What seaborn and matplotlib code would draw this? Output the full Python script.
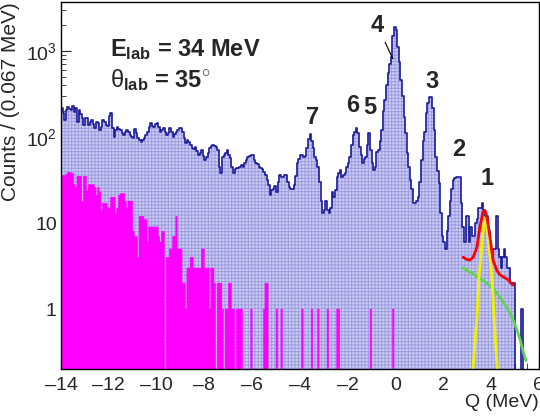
import numpy as np
import matplotlib
matplotlib.use("Agg")
import matplotlib.pyplot as plt
import seaborn as sns
from matplotlib.ticker import FixedLocator, FixedFormatter, MultipleLocator, LogLocator, NullFormatter

# histogram binning: 300 bins of 0.067 MeV between -14 and 6 MeV
q_min, q_max, n_bins = -14.0, 6.0, 300

# all events, counts per bin (one row = 1 MeV = 15 bins)
blue_counts = [
    215, 190, 157, 205, 225, 210, 205, 230, 195, 215, 150, 205, 185, 167, 138,   # -14
    167, 167, 138, 150, 157, 140, 127, 150, 145, 120, 130, 157, 150, 138, 135,   # -13
    175, 190, 127, 100, 120, 130, 125, 120, 110, 105, 115, 120, 115, 105, 100,   # -12
    97, 125, 110, 97, 92, 87, 92, 97, 105, 115, 130, 145, 135, 130, 140,         # -11
    145, 130, 115, 120, 127, 115, 105, 112, 127, 115, 100, 108, 115, 120, 127,   # -10
    127, 115, 97, 85, 92, 88, 80, 74, 72, 76, 68, 62, 66, 70, 60,                # -9
    54, 58, 66, 74, 78, 81, 78, 76, 70, 45, 38, 58, 62, 66, 70,                  # -8
    62, 57, 45, 38, 42, 44, 44, 45, 47, 45, 50, 54, 58, 60, 62,                  # -7
    62, 54, 50, 48, 45, 44, 42, 39, 36, 32, 28, 21, 24, 25, 27,                  # -6
    23, 30, 36, 34, 34, 36, 36, 30, 26, 25, 25, 28, 35, 50, 55,                  # -5
    62, 62, 58, 60, 75, 95, 108, 90, 74, 58, 54, 45, 30, 18, 13,                 # -4
    14, 18, 14, 13, 15, 23, 20, 24, 34, 38, 41, 34, 36, 38, 45,                  # -3
    50, 58, 80, 106, 115, 127, 110, 76, 62, 50, 55, 58, 80, 111, 70,             # -2
    50, 41, 45, 67, 70, 90, 120, 200, 268, 400, 550, 700, 850, 1500, 1900,       # -1
    1750, 1100, 750, 460, 300, 170, 110, 65, 45, 32, 25, 17, 17, 18, 20,         # 0
    30, 54, 90, 115, 190, 250, 290, 290, 220, 120, 58, 40, 29, 13, 7,            # 1
    6, 5, 8, 12, 18, 25, 32, 33, 34, 34, 34, 17, 9, 6, 12,                       # 2
    12, 6, 9, 7, 7, 10, 11, 15, 15, 17, 14, 12, 12, 8, 4,                        # 3
    4, 5, 5, 12, 5, 4, 3, 4, 5, 4, 3, 3, 2, 2, 2,                                # 4
    0, 0, 0, 0, 1, 0, 0, 0, 0, 0, 0, 0, 0, 0, 0,                                 # 5
]

# gated events (magenta)
magenta_counts = [
    34, 36, 35, 37, 39, 39, 38, 38, 28, 26, 35, 35, 35, 18, 35,   # -14
    35, 24, 28, 28, 28, 28, 26, 21, 26, 23, 14, 17, 17, 17, 15,   # -13
    15, 20, 20, 20, 13, 15, 21, 22, 22, 22, 18, 15, 18, 18, 18,   # -12
    8, 7, 7, 4, 12, 12, 12, 11, 11, 6, 9, 9, 9, 9, 9,             # -11
    9, 7, 6, 8, 8, 0, 4, 4, 5, 5, 7, 7, 12, 5, 5,                 # -10
    5, 2, 2, 1, 3, 3, 4, 4, 3, 3, 3, 3, 3, 5, 5,                  # -9
    3, 3, 3, 1, 3, 3, 2, 0, 2, 2, 2, 1, 0, 1, 1,                  # -8
    2, 2, 1, 1, 0, 1, 1, 1, 1, 0, 0, 0, 0, 0, 1,                  # -7
    0, 0, 0, 0, 0, 0, 0, 1, 2, 2, 0, 0, 0, 0, 0,                  # -6
    1, 0, 0, 1, 0, 0, 0, 0, 0, 0, 0, 0, 0, 0, 0,                  # -5
    0, 1, 0, 0, 0, 0, 0, 1, 0, 0, 0, 1, 0, 0, 0,                  # -4
    0, 0, 1, 0, 0, 0, 0, 0, 1, 1, 0, 0, 0, 0, 0,                  # -3
    0, 0, 0, 0, 0, 0, 0, 0, 0, 0, 0, 0, 0, 0, 1,                  # -2
    0, 0, 0, 0, 0, 0, 0, 0, 0, 0, 0, 0, 0, 1, 0,                  # -1
] + [0] * 90

# fit of peak 1: total (red), background (green), gaussian (yellow)
red_q = [2.83, 2.95, 3.11, 3.25, 3.41, 3.53, 3.66, 3.74, 3.82, 3.95, 4.08, 4.24, 4.37, 4.58, 4.70, 4.91]
red_val = [4.0, 3.8, 3.7, 4.0, 5.3, 9.0, 13.4, 14.0, 12.0, 6.9, 3.7, 2.8, 2.5, 2.3, 2.2, 1.9]
green_q = [2.83, 3.20, 3.60, 3.82, 4.10, 4.37, 4.60, 4.79, 4.95, 5.08, 5.20, 5.33, 5.46]
green_val = [3.0, 2.6, 2.2, 2.0, 1.7, 1.38, 1.1, 0.9, 0.72, 0.57, 0.45, 0.33, 0.25]
yellow_q = [3.23, 3.32, 3.41, 3.49, 3.56, 3.62, 3.68, 3.74, 3.80, 3.87, 3.95, 4.03, 4.12, 4.20, 4.27]
yellow_val = [0.18, 0.4, 0.8, 2.4, 3.8, 6.3, 9.0, 11.4, 10.5, 6.9, 4.0, 2.4, 0.8, 0.35, 0.18]

# peak labels
peak_names = ["7", "6", "5", "3", "2", "1"]
peak_q = [-3.46, -1.78, -1.07, 1.52, 2.65, 3.82]
peak_y = [170, 235, 218, 436, 72, 33]

edges = list(np.linspace(q_min, q_max, n_bins + 1))
centers = [0.5 * (a + b) for a, b in zip(edges[:-1], edges[1:])]

sns.set_style("ticks")
plt.rcParams['font.family'] = ['Liberation Sans', 'DejaVu Sans']
plt.rcParams['mathtext.fontset'] = 'custom'
plt.rcParams['mathtext.rm'] = 'Liberation Sans'
plt.rcParams['mathtext.it'] = 'Liberation Sans:italic'
plt.rcParams['mathtext.bf'] = 'Liberation Sans:bold'
plt.rcParams['hatch.linewidth'] = 0.7

fig = plt.figure(figsize=(5.4, 4.19), dpi=100)
ax = fig.add_axes([0.113, 0.119, 0.885, 0.876])

# hatched fill of the full spectrum
sns.histplot(x=centers, weights=blue_counts, bins=edges, element="step", fill=True,
             facecolor="#cdcdf3", edgecolor="#9c9ce2", hatch="+++++", linewidth=0,
             ax=ax)
# gated spectrum
sns.histplot(x=centers, weights=magenta_counts, bins=edges, element="step", fill=True,
             facecolor="#ff00ff", edgecolor="#ff00ff", linewidth=0.3, alpha=1, ax=ax)
# outline of the full spectrum
sns.histplot(x=centers, weights=blue_counts, bins=edges, element="step", fill=False,
             color="#1c1c9a", linewidth=1.2, ax=ax)

sns.lineplot(x=green_q, y=green_val, color="#62d452", linewidth=2, ax=ax)
sns.lineplot(x=yellow_q, y=yellow_val, color="#f2f200", linewidth=2, ax=ax)
sns.lineplot(x=red_q, y=red_val, color="#ff0000", linewidth=2, ax=ax)

ax.set_yscale("log")
ax.set_xlim(q_min, q_max)
ax.set_ylim(0.2, 3700)

ax.xaxis.set_major_locator(MultipleLocator(2))
ax.xaxis.set_minor_locator(MultipleLocator(0.5))
ax.xaxis.set_major_formatter(matplotlib.ticker.FuncFormatter(lambda v, p: f"{v:.0f}".replace("-", "\u2013")))
ax.yaxis.set_major_locator(FixedLocator([1, 10, 100, 1000]))
ax.yaxis.set_major_formatter(FixedFormatter(["1", "10", "$10^{2}$", "$10^{3}$"]))
ax.yaxis.set_minor_locator(LogLocator(base=10, subs=np.arange(2, 10)))
ax.yaxis.set_minor_formatter(NullFormatter())
ax.tick_params(axis="both", which="both", direction="in", labelsize=14, top=False, right=False)
ax.tick_params(axis="x", which="major", length=8.5, pad=6)
ax.tick_params(axis="x", which="minor", length=4.3)
ax.tick_params(axis="y", which="major", length=7.5, pad=3)
ax.tick_params(axis="y", which="minor", length=3.8)
for s in ax.spines.values():
    s.set_visible(True)
    s.set_linewidth(1.0)
    s.set_color("black")

ax.set_xlabel("Q (MeV)", fontsize=14, loc="right", labelpad=0)
ax.set_ylabel("Counts / (0.067 MeV)", fontsize=15, loc="top", labelpad=4)

ax.text(0.102, 0.852, r"$\mathbf{E_{lab}}$ = 34 MeV", transform=ax.transAxes,
        fontsize=17, fontweight="bold", ha="left", va="baseline")
ax.text(0.102, 0.768, r"$\mathrm{\theta}_{\mathbf{lab}}$ = 35$^{\circ}$", transform=ax.transAxes,
        fontsize=17, fontweight="bold", ha="left", va="baseline")

for name, q, y in zip(peak_names, peak_q, peak_y):
    ax.text(q, y, name, fontsize=17, fontweight="bold", ha="center", va="center")
ax.annotate("4", xy=(-0.11, 810), xytext=(-0.78, 2000), fontsize=17, fontweight="bold",
            ha="center", va="center",
            arrowprops=dict(arrowstyle="-", color="black", lw=0.8, shrinkA=2, shrinkB=0))

fig.savefig("out.png", dpi=100)
